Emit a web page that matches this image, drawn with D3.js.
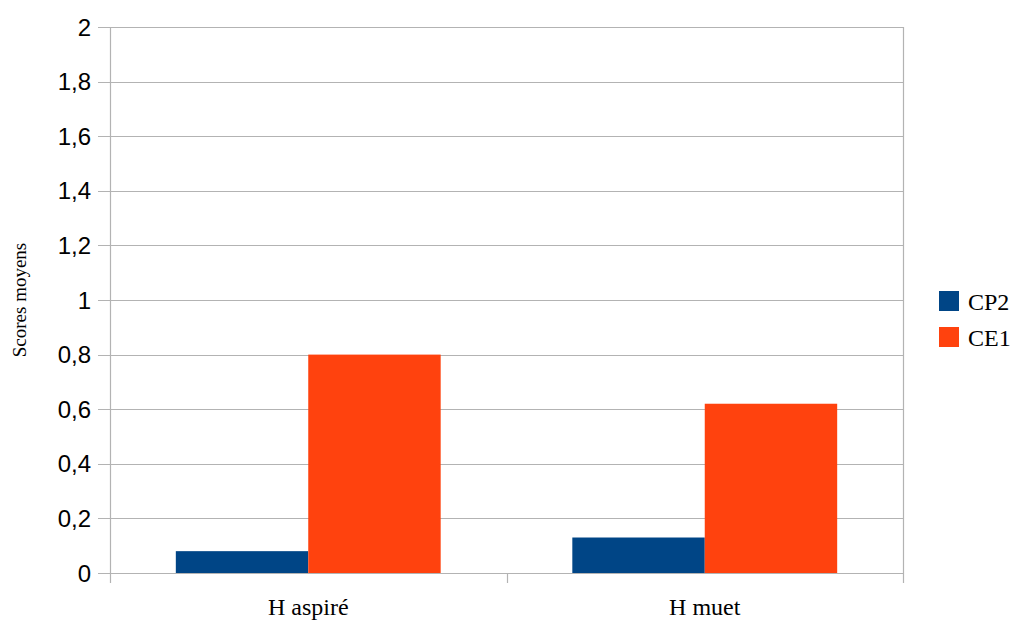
<!DOCTYPE html>
<html>
<head>
<meta charset="utf-8">
<script src="https://cdn.jsdelivr.net/npm/d3@7"></script>
<style>
  html, body { margin: 0; padding: 0; background: #fff; }
  svg { display: block; }
</style>
</head>
<body>
<svg id="chart" width="1012" height="621"></svg>
<script>
const categories = ["H aspiré", "H muet"];
const seriesNames = ["CP2", "CE1"];
const seriesColors = ["#004586", "#ff420e"];
const cp2Values = [0.08, 0.13];
const ce1Values = [0.80, 0.62];
const yTicks = [0, 0.2, 0.4, 0.6, 0.8, 1, 1.2, 1.4, 1.6, 1.8, 2];
const yTitle = "Scores moyens";

(function () {
const seriesValues = [cp2Values, ce1Values];
const data = categories.map((c, i) => ({
  category: c,
  values: seriesNames.map((s, j) => ({ series: s, value: seriesValues[j][i], color: seriesColors[j] }))
}));

const svg = d3.select("#chart");
const pLeft = 110, pRight = 903, pTop = 27, pBottom = 573;

const x = d3.scaleBand().domain(categories).range([pLeft, pRight]).paddingInner(0.332).paddingOuter(0.166);
const xInner = d3.scaleBand().domain(seriesNames).range([0, x.bandwidth()]);
const y = d3.scaleLinear().domain([0, 2]).range([pBottom, pTop]);
const fmt = d => d3.format("")(d).replace(".", ",");

const grid = "#b3b3b3";

// gridlines
svg.append("g").selectAll("line").data(yTicks).join("line")
  .attr("x1", pLeft - 12).attr("x2", pRight)
  .attr("y1", d => Math.round(y(d)) + 0.5).attr("y2", d => Math.round(y(d)) + 0.5)
  .attr("stroke", grid).attr("stroke-width", 1.2);

// left and right vertical lines
[pLeft, pRight].forEach(xx => {
  svg.append("line")
    .attr("x1", xx + 0.5).attr("x2", xx + 0.5)
    .attr("y1", pTop).attr("y2", pBottom + 10)
    .attr("stroke", grid).attr("stroke-width", 1.2);
});

// category boundary ticks
const boundaries = [pLeft + x.step()];
svg.append("g").selectAll("line").data(boundaries).join("line")
  .attr("x1", d => Math.round(d) + 0.5).attr("x2", d => Math.round(d) + 0.5)
  .attr("y1", pBottom).attr("y2", pBottom + 10)
  .attr("stroke", grid).attr("stroke-width", 1.2);

// bars
const groups = svg.append("g").selectAll("g").data(data).join("g")
  .attr("transform", d => `translate(${x(d.category)},0)`);
groups.selectAll("rect").data(d => d.values).join("rect")
  .attr("x", d => xInner(d.series))
  .attr("width", xInner.bandwidth())
  .attr("y", d => y(d.value))
  .attr("height", d => y(0) - y(d.value))
  .attr("fill", d => d.color);

// y tick labels
svg.append("g").selectAll("text").data(yTicks).join("text")
  .attr("x", 91).attr("y", d => y(d))
  .attr("dy", "0.36em")
  .attr("text-anchor", "end")
  .attr("font-family", "Liberation Sans, Arial, sans-serif")
  .attr("font-size", 24)
  .attr("fill", "#000")
  .text(fmt);

// x labels
svg.append("g").selectAll("text").data(categories).join("text")
  .attr("x", d => x(d) + x.bandwidth() / 2)
  .attr("y", 615)
  .attr("text-anchor", "middle")
  .attr("font-family", "Liberation Serif, Times New Roman, serif")
  .attr("font-size", 24)
  .attr("fill", "#000")
  .text(d => d);

// y title
svg.append("text")
  .attr("transform", "translate(26,300) rotate(-90)")
  .attr("text-anchor", "middle")
  .attr("font-family", "Liberation Serif, Times New Roman, serif")
  .attr("font-size", 19)
  .attr("fill", "#000")
  .text(yTitle);

// legend
const legend = svg.append("g").selectAll("g").data(seriesNames).join("g")
  .attr("transform", (d, i) => `translate(939,${291 + i * 36})`);
legend.append("rect").attr("width", 20).attr("height", 20)
  .attr("fill", (d, i) => seriesColors[i]);
legend.append("text").attr("x", 29).attr("y", 19)
  .attr("font-family", "Liberation Serif, Times New Roman, serif")
  .attr("font-size", 24)
  .attr("fill", "#000")
  .text(d => d);
})();
</script>
</body>
</html>
